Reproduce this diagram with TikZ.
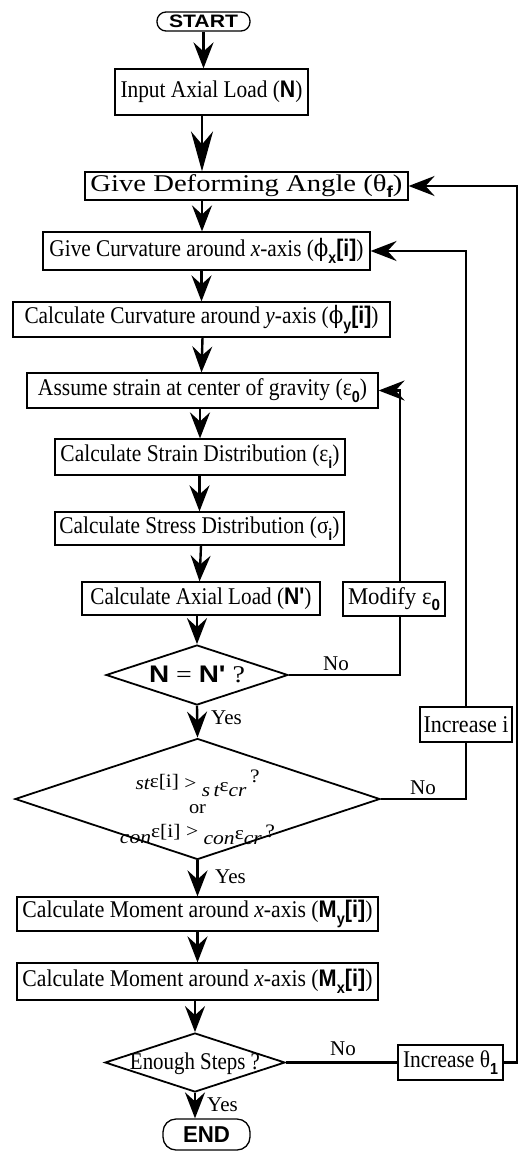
\documentclass[tikz,border=0pt]{standalone}
\usepackage{fontspec}
\usepackage{graphicx}
\setmainfont{Liberation Serif}
\setsansfont{Liberation Sans}
\newfontfamily\sfnl{Liberation Sans}[Ligatures=TeXOff]
\newfontfamily\dvs{DejaVu Serif}
\usetikzlibrary{shapes.geometric,arrows.meta}
\newcommand{\bsf}[1]{{\sfnl\bfseries #1}}
\newcommand{\mysub}[1]{\raisebox{-0.28em}{\fontsize{16}{16}\selectfont\sffamily\bfseries #1}}
\newcommand{\fw}[2]{\resizebox{#1pt}{\height}{#2}}
\newcommand{\phisym}{{\dvs ϕ}}
\begin{document}
\begin{tikzpicture}[x=1pt,y=-1pt,
  font=\fontsize{24}{28}\selectfont,
  box/.style={draw, line width=1.2pt, rectangle, inner sep=0pt},
  term/.style={draw, line width=1.3pt, rectangle, rounded corners=9pt, inner sep=0pt},
  dia/.style={draw, diamond, line width=1.8pt, inner sep=0pt},
  conn/.style={line width=2.4pt},
  arr/.style={conn, -{Stealth[length=26pt,width=20pt,inset=9pt]}},
  arrL/.style={conn, -{Stealth[length=40pt,width=22pt,inset=13pt]}},
  lbl/.style={inner sep=0pt, font=\fontsize{21}{24}\selectfont}]
\useasboundingbox (0,0) rectangle (519,1151);
\coordinate (c1) at (202,0);
\coordinate (m0) at (400,0);
\coordinate (rt) at (517,0);

\node[term, minimum width=93pt, minimum height=19pt] (start) at (203.5,21.5) {\fw{69}{\fontsize{18}{18}\selectfont\bsf{START}}};
\node[box, minimum width=193pt, minimum height=46pt] (input) at (211.5,92) {\fw{182}{Input Axial Load (\bsf{N})}};
\node[box, minimum width=323pt, minimum height=28pt] (deform) at (246.5,186) {\fw{312}{Give Deforming Angle (θ\mysub{f})}};
\node[box, minimum width=327pt, minimum height=38pt] (curvx) at (206.5,251) {\fw{314}{Give Curvature around \textit{x}-axis (\phisym\mysub{x}\bsf{[i]})}};
\node[box, minimum width=377pt, minimum height=35pt] (curvy) at (201.5,319.5) {\fw{354}{Calculate Curvature around \textit{y}-axis (\phisym\mysub{y}\bsf{[i]})}};
\node[box, minimum width=351pt, minimum height=35pt] (assume) at (202.5,390.5) {\fw{329}{Assume strain at center of gravity (ε\mysub{0})}};
\node[box, minimum width=290pt, minimum height=36pt] (strain) at (200,457) {\fw{279}{Calculate Strain Distribution (ε\mysub{i})}};
\node[box, minimum width=289pt, minimum height=33pt] (stress) at (199.5,528.5) {\fw{280}{Calculate Stress Distribution (σ\mysub{i})}};
\node[box, minimum width=238pt, minimum height=33pt] (axial) at (201,598.5) {\fw{221}{Calculate Axial Load (\bsf{N'})}};
\node[box, minimum width=102pt, minimum height=34pt] (modify) at (394,599) {\fw{92}{Modify ε\mysub{0}}};
\node[dia, minimum width=182pt, minimum height=60pt] (d1) at (197,675) {\smash{\makebox[0pt]{\raisebox{-0.3em}{\fw{96}{\bsf{N} = \bsf{N'} ?}}}}};
\node[box, minimum width=92pt, minimum height=35pt] (incri) at (466,724.5) {\fw{85}{Increase i}};
\node[dia, minimum width=365pt, minimum height=121pt] (d2) at (197.5,799) {\smash{\makebox[0pt]{\raisebox{-0.55em}{\fontsize{19}{26}\selectfont\begin{tabular}{@{}c@{}}
\fw{124}{{\itshape st}\raisebox{.12em}{ε[i]} > \raisebox{-.35em}{\itshape s\,t}\raisebox{-.12em}{ε}\raisebox{-.35em}{\itshape cr}\,\raisebox{.35em}{?}}\\[-2pt]
\fw{17}{or}\\[-2pt]
\fw{155}{\raisebox{-.3em}{\itshape con}ε[i] > \raisebox{-.35em}{\itshape con}\raisebox{-.1em}{ε}\raisebox{-.35em}{\itshape cr}\,?}
\end{tabular}}}}};
\node[box, minimum width=361pt, minimum height=34pt] (my) at (197.5,914) {\fw{350}{Calculate Moment around \textit{x}-axis (\bsf{M}\mysub{y}\bsf{[i]})}};
\node[box, minimum width=361pt, minimum height=37pt] (mx) at (197.5,981.5) {\fw{350}{Calculate Moment around \textit{x}-axis (\bsf{M}\mysub{x}\bsf{[i]})}};
\node[dia, minimum width=180pt, minimum height=59pt] (d3) at (195,1062.5) {\smash{\makebox[0pt]{\raisebox{-0.3em}{\fw{130}{Enough Steps ?}}}}};
\node[box, minimum width=105pt, minimum height=35pt] (inctheta) at (450.5,1062.5) {\fw{95}{Increase θ\mysub{1}}};
\node[term, rounded corners=13pt, minimum width=87pt, minimum height=31pt] (end) at (206.5,1134.5) {\fw{47}{\fontsize{23}{23}\selectfont\bsf{END}}};

% main flow
\draw[arr] (start.south) -- (start.south |- input.north);
\draw[arrL] (input.south -| c1) -- (deform.north -| c1);
\draw[arr] (deform.south -| c1) -- (curvx.north -| c1);
\draw[arr] (curvx.south -| curvy.north) -- (curvy.north);
\draw[arr] (curvy.south -| assume.north) -- (assume.north -| curvy.south);
\draw[arr] (assume.south -| strain.north) -- (strain.north);
\draw[arr] (strain.south -| stress.north) -- (stress.north);
\draw[arr] (stress.south -| axial.north) -- (axial.north -| stress.south);
\draw[arr] (axial.south -| d1.north) -- (d1.north);
\draw[arr] (d1.south) -- (d2.north);
\draw[arr] (d2.south) -- (d2.south |- my.north);
\draw[arr] (my.south -| d2.south) -- (mx.north -| d2.south);
\draw[arr] (mx.south -| d3.north) -- (d3.north);
\draw[arr] (d3.south) -- (d3.south |- end.north);

% loops
\draw[conn] (d1.east) -- (d1.east -| m0) -- (modify.south -| m0);
\draw[arr] (modify.north -| m0) -- (assume.east -| m0) -- (assume.east);
\draw[conn] (d2.east) -- (d2.east -| incri.south) -- (incri.south);
\draw[arr] (incri.north) -- (incri.north |- curvx.east) -- (curvx.east);
\draw[conn] (d3.east) -- (inctheta.west);
\draw[arr] (inctheta.east) -- (inctheta.east -| rt) -- (deform.east -| rt) -- (deform.east);

% labels
\node[lbl] (no1) at (336,664) {No};
\node[lbl] (no2) at (423,788) {No};
\node[lbl] (no3) at (343,1049) {No};
\node[lbl, anchor=west] (yes1) at (211,718) {Yes};
\node[lbl, anchor=west] (yes2) at (215,877) {Yes};
\node[lbl, anchor=west] (yes3) at (207,1105) {Yes};
\end{tikzpicture}
\end{document}
